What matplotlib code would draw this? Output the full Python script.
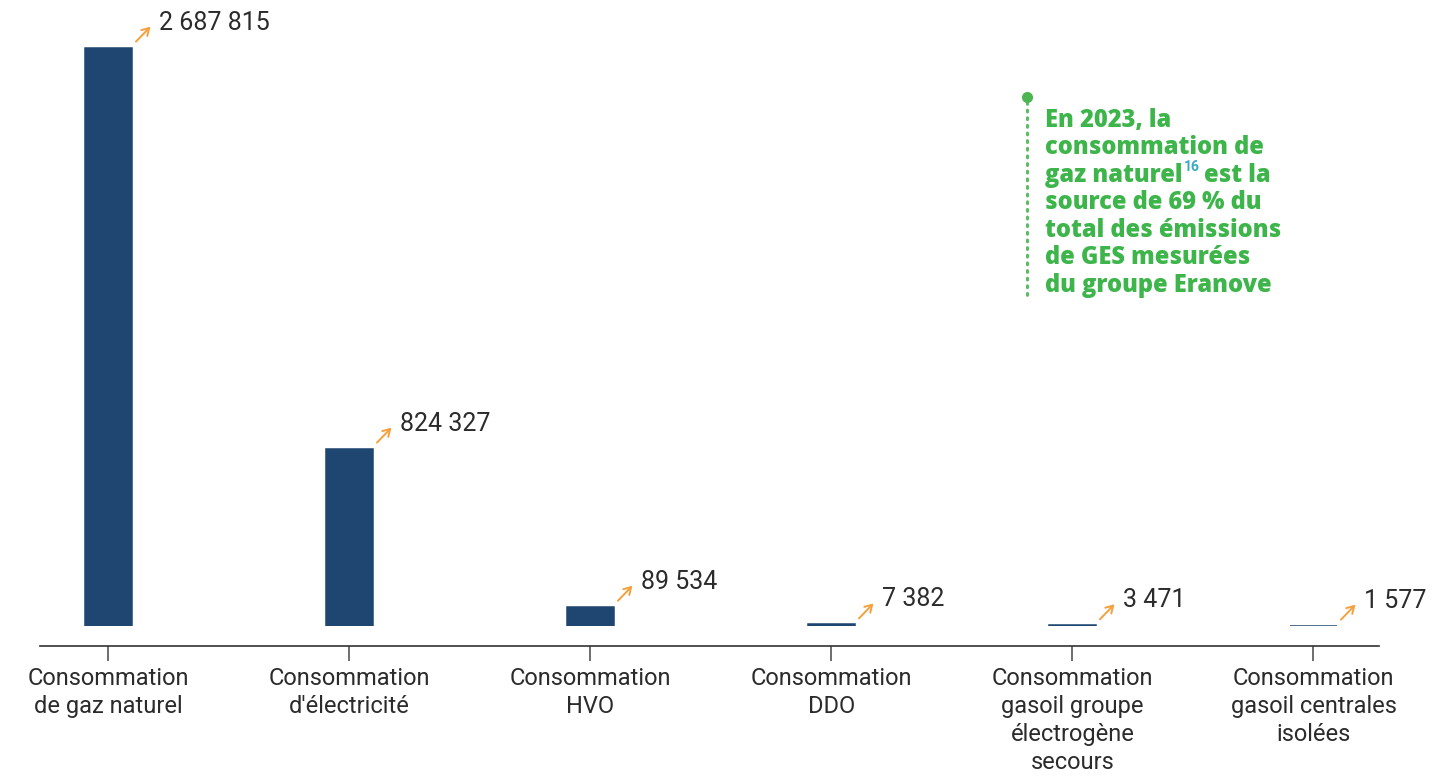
import matplotlib
matplotlib.use("Agg")
import matplotlib.pyplot as plt
from matplotlib.lines import Line2D
from matplotlib.transforms import offset_copy

plt.rcParams["font.family"] = ["Roboto", "DejaVu Sans"]

# consumption by source (tCO2e)
categories = [
    "Consommation\nde gaz naturel",
    "Consommation\nd'électricité",
    "Consommation\nHVO",
    "Consommation\nDDO",
    "Consommation\ngasoil groupe\nélectrogène\nsecours",
    "Consommation\ngasoil centrales\nisolées",
]
values = [2687815, 824327, 89534, 7382, 3471, 1577]

note_lines = [
    "En 2023, la",
    "consommation de",
    None,  # line with the footnote mark, drawn separately
    "source de 69 % du",
    "total des émissions",
    "de GES mesurées",
    "du groupe Eranove",
]

BAR = "#1e4670"
ORANGE = "#f5a03c"
GREEN = "#3db54a"
TEAL = "#3aa9c4"
TEXT = "#2b2b2b"

W, H = 1452, 779
fig = plt.figure(figsize=(W / 100, H / 100), dpi=100)
ax = fig.add_axes([40 / W, 153 / H, 1339 / W, 596 / H])

x = list(range(len(values)))
ax.bar(x, values, width=0.195, color=BAR, edgecolor=BAR, linewidth=1.1)
ax.set_xlim(-0.284, 5.272)
ax.set_ylim(0, 2.77e6)

for side in ("top", "right", "left"):
    ax.spines[side].set_visible(False)
ax.spines["bottom"].set_position(("outward", 14.4))
ax.spines["bottom"].set_color("#333333")
ax.spines["bottom"].set_linewidth(1.2)
ax.set_yticks([])
ax.set_xticks(x)
ax.set_xticklabels(categories, fontsize=17, color=TEXT, linespacing=1.27)
ax.tick_params(axis="x", length=10.8, width=1.2, color="#555555", pad=4.5)

# value labels with small orange arrows
for xi, v in zip(x, values):
    corner = (xi + 0.0975, v)
    tail = offset_copy(ax.transData, fig=fig, x=4, y=6, units="dots")
    head = offset_copy(ax.transData, fig=fig, x=18.5, y=21, units="dots")
    ax.annotate("", xy=corner, xycoords=head, xytext=corner, textcoords=tail,
                arrowprops=dict(arrowstyle="->,head_length=0.5,head_width=0.3",
                                color=ORANGE, lw=1.4, shrinkA=0, shrinkB=0))
    lab = f"{v:,}".replace(",", " ")
    ax.text(*corner, lab, fontsize=18, color=TEXT, va="baseline", ha="left",
            transform=offset_copy(ax.transData, fig=fig, x=27.5, y=18, units="dots"))

# side note
def fy(py):
    return 1 - py / H

fig.add_artist(Line2D([1027 / W, 1027 / W], [fy(102), fy(298)], color="#5dbb63",
                      lw=2.2, linestyle=(0, (0.6, 1.9)), dash_capstyle="round"))
fig.add_artist(Line2D([1027 / W], [fy(97)], marker="o", markersize=7,
                      color="#4cb552", lw=0))

note_kw = dict(fontsize=17, color=GREEN, fontweight="heavy", va="baseline",
               ha="left", family=["Open Sans", "DejaVu Sans"])
renderer = fig.canvas.get_renderer()
for i, line in enumerate(note_lines):
    yb = fy(126.7 + 27.5 * i)
    if line is not None:
        fig.text(1045 / W, yb, line, **note_kw)
    else:
        t = fig.text(1045 / W, yb, "gaz naturel", **note_kw)
        x1 = t.get_window_extent(renderer=renderer).x1
        sup = fig.text((x1 + 1) / W, yb + 10.5 / H, "16", fontsize=10, color=TEAL,
                       fontweight="bold", va="baseline", ha="left")
        x2 = sup.get_window_extent(renderer=renderer).x1
        fig.text((x2 + 5) / W, yb, "est la", **note_kw)

fig.savefig("out.png", dpi=100)
